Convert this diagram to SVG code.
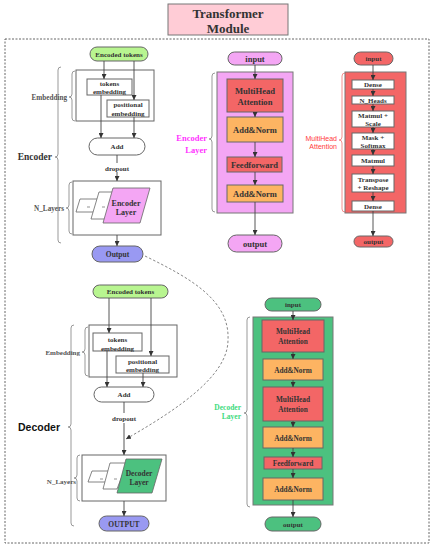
<svg xmlns="http://www.w3.org/2000/svg" width="433" height="550" viewBox="0 0 433 550">
<defs>
<style>
.t{font-family:"Liberation Serif","Times New Roman",serif;font-weight:bold;fill:#333;text-anchor:middle}
.l{font-family:"Liberation Serif","Times New Roman",serif;font-weight:bold;fill:#555;text-anchor:end}
.box{stroke:#666;stroke-width:1}
.ln{stroke:#444;stroke-width:0.9;fill:none}
.br{stroke:#999;stroke-width:1;fill:none}
</style>
<marker id="a" viewBox="0 0 6 6" refX="6" refY="3" markerWidth="5" markerHeight="5" orient="auto" markerUnits="userSpaceOnUse">
<path d="M0,0 L6,3 L0,6 z" fill="#333"/>
</marker>
</defs>
<rect width="433" height="550" fill="#fff"/>

<g id="title">
<rect x="168" y="4" width="120" height="31" fill="#FFCCD6" stroke="#777" stroke-width="1"/>
<text class="t" x="228" y="18" font-size="13">Transformer</text>
<text class="t" x="228" y="33" font-size="13">Module</text>
</g>

<rect id="frame" x="5" y="39" width="424" height="504" fill="none" stroke="#666" stroke-width="1" stroke-dasharray="2,1.5"/>

<!-- Encoder left -->
<g id="enc-braces">
<path class="br" d="M61,67 Q58,67 58,70 L58,154 Q58,157 55,157 Q58,157 58,160 L58,240 Q58,243 61,243"/>
<path class="br" d="M75,71 Q72,71 72,74 L72,94 Q72,97 69,97 Q72,97 72,100 L72,118 Q72,121 75,121"/>
<path class="br" d="M72,182 Q69,182 69,185 L69,205 Q69,208 66,208 Q69,208 69,211 L69,231 Q69,234 72,234"/>
<text class="t" x="52" y="160" font-size="9.5" style="text-anchor:end" fill="#222">Encoder</text>
<text class="l" x="67" y="99.5" font-size="7.2">Embedding</text>
<text class="l" x="64" y="210.5" font-size="7.2">N_Layers</text>
</g>
<g id="enc-tokens">
<rect class="box" x="90" y="47" width="58" height="14" rx="7" fill="#B8F590"/>
<text class="t" x="119" y="56.5" font-size="7">Encoded tokens</text>
</g>
<g id="enc-embedding">
<rect x="76" y="70" width="78" height="51" fill="#fff" stroke="#666"/>
</g>
<g id="enc-tokemb">
<rect x="87" y="79" width="45" height="16" fill="#fff" stroke="#666"/>
<text class="t" x="109.5" y="85.5" font-size="7">tokens</text>
<text class="t" x="109.5" y="94" font-size="7">embedding</text>
</g>
<g id="enc-posemb">
<rect x="107" y="100" width="42" height="17" fill="#fff" stroke="#666"/>
<text class="t" x="128" y="106.5" font-size="7">positional</text>
<text class="t" x="128" y="115.5" font-size="7">embedding</text>
</g>
<g id="enc-add">
<rect x="89" y="138" width="56" height="17" rx="8.5" fill="#fff" stroke="#666"/>
<text class="t" x="117" y="149" font-size="7">Add</text>
</g>
<text class="t" x="117" y="170.5" font-size="7">dropout</text>
<g id="enc-nlayers">
<rect x="73" y="181" width="88" height="54" fill="#fff" stroke="#666"/>
<polygon points="80,199 100,199 96,212 76,212" fill="#fff" stroke="#666" stroke-width="0.8"/>
<line x1="87" y1="207" x2="90" y2="207" stroke="#666" stroke-width="0.7"/>
<polygon points="99,192 122,192 114,219 91,219" fill="#fff" stroke="#666" stroke-width="0.8"/>
<line x1="102" y1="207" x2="105" y2="207" stroke="#666" stroke-width="0.7"/>
<polygon points="113,188 150,188 140,223 103,223" fill="#F4A6F4" stroke="#666" stroke-width="0.8"/>
<text class="t" x="126" y="206" font-size="8">Encoder</text>
<text class="t" x="126" y="215" font-size="8">Layer</text>
</g>
<g id="enc-output">
<rect class="box" x="92" y="246" width="51" height="16" rx="8" fill="#9999F2"/>
<text class="t" x="117.5" y="256.5" font-size="7.5">Output</text>
</g>

<!-- Decoder left -->
<g id="dec-braces">
<path class="br" d="M74,325 Q71,325 71,328 L71,424 Q71,427 68,427 Q71,427 71,430 L71,523 Q71,526 74,526"/>
<path class="br" d="M88,327 Q85,327 85,330 L85,349 Q85,352 82,352 Q85,352 85,355 L85,373 Q85,376 88,376"/>
<path class="br" d="M80,455 Q77,455 77,458 L77,475 Q77,478 74,478 Q77,478 77,481 L77,498 Q77,501 80,501"/>
<text x="60" y="431" font-size="10.5" font-family="'Liberation Sans',Arial,sans-serif" font-weight="bold" fill="#111" text-anchor="end">Decoder</text>
<text class="l" x="80" y="354.5" font-size="7">Embedding</text>
<text class="l" x="76" y="483.5" font-size="7">N_Layers</text>
</g>
<g id="dec-tokens">
<rect class="box" x="93" y="285" width="75" height="13" rx="6.5" fill="#B8F590"/>
<text class="t" x="130.5" y="294" font-size="7">Encoded tokens</text>
</g>
<g id="dec-embedding">
<rect x="89" y="325" width="88" height="52" fill="#fff" stroke="#666"/>
</g>
<g id="dec-tokemb">
<rect x="93" y="333" width="49" height="18" fill="#fff" stroke="#666"/>
<text class="t" x="117.5" y="341.5" font-size="7">tokens</text>
<text class="t" x="117.5" y="350.5" font-size="7">embedding</text>
</g>
<g id="dec-posemb">
<rect x="116" y="356" width="53" height="17" fill="#fff" stroke="#666"/>
<text class="t" x="142.5" y="363.5" font-size="7">positional</text>
<text class="t" x="142.5" y="372" font-size="7">embedding</text>
</g>
<g id="dec-add">
<rect x="94" y="387" width="60" height="15" rx="7.5" fill="#fff" stroke="#666"/>
<text class="t" x="124" y="397" font-size="7">Add</text>
</g>
<text class="t" x="124" y="420.5" font-size="7">dropout</text>
<g id="dec-nlayers">
<rect x="82" y="455" width="84" height="46" fill="#fff" stroke="#666"/>
<polygon points="92,471 110,471 106,482 88,482" fill="#fff" stroke="#666" stroke-width="0.8"/>
<line x1="100" y1="479" x2="103" y2="479" stroke="#666" stroke-width="0.7"/>
<polygon points="110,463 127,463 117,489 103,489" fill="#fff" stroke="#666" stroke-width="0.8"/>
<line x1="114" y1="479" x2="117" y2="479" stroke="#666" stroke-width="0.7"/>
<polygon points="126,459 162,459 152,493 117,493" fill="#4CC17F" stroke="#666" stroke-width="0.8"/>
<text class="t" x="139" y="476" font-size="7.5">Decoder</text>
<text class="t" x="139" y="485" font-size="7.5">Layer</text>
</g>
<g id="dec-output">
<rect class="box" x="99" y="516" width="50" height="15" rx="7.5" fill="#9999F2"/>
<text class="t" x="124" y="526.5" font-size="7.5">OUTPUT</text>
</g>

<!-- Encoder Layer -->
<g id="el-brace">
<path class="br" d="M215,73 Q212,73 212,76 L212,136 Q212,139 209,139 Q212,139 212,142 L212,209 Q212,212 215,212"/>
<text x="207" y="141" font-size="8.5" font-family="'Liberation Serif',serif" font-weight="bold" fill="#FF33FF" text-anchor="end">Encoder</text>
<text x="207" y="153" font-size="8.5" font-family="'Liberation Serif',serif" font-weight="bold" fill="#FF33FF" text-anchor="end">Layer</text>
</g>
<g id="el-input">
<rect class="box" x="228" y="52" width="54" height="13" rx="6.5" fill="#F4A6F4"/>
<text class="t" x="255" y="61.5" font-size="8.5">input</text>
</g>
<g id="el-container">
<rect x="217" y="72" width="76" height="141" fill="#F4A6F4" stroke="#777"/>
</g>
<g id="el-mha">
<rect class="box" x="227" y="79" width="56" height="33" fill="#F36666"/>
<text class="t" x="255" y="94" font-size="8.6">MultiHead</text>
<text class="t" x="255" y="105" font-size="8.6">Attention</text>
</g>
<g id="el-an1">
<rect class="box" x="227" y="117" width="56" height="25" fill="#FDB462"/>
<text class="t" x="255" y="132.5" font-size="8.5">Add&amp;Norm</text>
</g>
<g id="el-ff">
<rect class="box" x="227" y="157" width="55" height="15" fill="#F36666"/>
<text class="t" x="254.5" y="167.5" font-size="8.5">Feedforward</text>
</g>
<g id="el-an2">
<rect class="box" x="227" y="185" width="56" height="17" fill="#FDB462"/>
<text class="t" x="255" y="196.5" font-size="8.5">Add&amp;Norm</text>
</g>
<g id="el-output">
<rect class="box" x="228" y="235" width="54" height="17" rx="8.5" fill="#F4A6F4"/>
<text class="t" x="255" y="246.5" font-size="8.5">output</text>
</g>

<!-- MultiHead Attention -->
<g id="mha-brace">
<path d="M345,73 Q342,73 342,76 L342,137 Q342,140 339,140 Q342,140 342,143 L342,209 Q342,212 345,212" stroke="#F49090" stroke-width="1" fill="none"/>
<text x="337" y="140.5" font-size="7" font-family="'Liberation Sans',Arial,sans-serif" fill="#FF3B3B" text-anchor="end">MultiHead</text>
<text x="337" y="148.5" font-size="7" font-family="'Liberation Sans',Arial,sans-serif" fill="#FF3B3B" text-anchor="end">Attention</text>
</g>
<g id="mha-input">
<rect class="box" x="354" y="52" width="39" height="13" rx="6.5" fill="#F36666"/>
<text class="t" x="373.5" y="61" font-size="7">input</text>
</g>
<g id="mha-container">
<rect x="345" y="72" width="61" height="141" fill="#F36666" stroke="#777"/>
</g>
<g id="mha-dense1">
<rect class="box" x="352" y="80" width="42" height="9" fill="#fff"/>
<text class="t" x="373" y="87" font-size="7">Dense</text>
</g>
<g id="mha-nheads">
<rect class="box" x="352" y="96" width="42" height="8" fill="#fff"/>
<text class="t" x="373" y="102.5" font-size="7">N_Heads</text>
</g>
<g id="mha-matmul-scale">
<rect class="box" x="352" y="111" width="42" height="16" fill="#fff"/>
<text class="t" x="373" y="117.5" font-size="7">Matmul +</text>
<text class="t" x="373" y="126" font-size="7">Scale</text>
</g>
<g id="mha-mask">
<rect class="box" x="352" y="133" width="42" height="16" fill="#fff"/>
<text class="t" x="373" y="139.5" font-size="7">Mask +</text>
<text class="t" x="373" y="148" font-size="7">Softmax</text>
</g>
<g id="mha-matmul">
<rect class="box" x="352" y="155" width="42" height="11" fill="#fff"/>
<text class="t" x="373" y="163" font-size="7">Matmul</text>
</g>
<g id="mha-transpose">
<rect class="box" x="352" y="174" width="42" height="18" fill="#fff"/>
<text class="t" x="373" y="181.5" font-size="7">Transpose</text>
<text class="t" x="373" y="190" font-size="7">+ Reshape</text>
</g>
<g id="mha-dense2">
<rect class="box" x="352" y="201" width="42" height="10" fill="#fff"/>
<text class="t" x="373" y="208.5" font-size="7">Dense</text>
</g>
<g id="mha-output">
<rect class="box" x="354" y="236" width="39" height="11" rx="5.5" fill="#F36666"/>
<text class="t" x="373.5" y="244" font-size="7">output</text>
</g>

<!-- Decoder Layer -->
<g id="dl-brace">
<path class="br" d="M250,317 Q247,317 247,320 L247,410 Q247,413 244,413 Q247,413 247,416 L247,504 Q247,507 250,507"/>
<text x="241" y="409.5" font-size="7.5" font-family="'Liberation Serif',serif" font-weight="bold" fill="#3EDB7E" text-anchor="end">Decoder</text>
<text x="241" y="418.5" font-size="7.5" font-family="'Liberation Serif',serif" font-weight="bold" fill="#3EDB7E" text-anchor="end">Layer</text>
</g>
<g id="dl-input">
<rect class="box" x="265" y="298" width="56" height="13" rx="6.5" fill="#4CC17F"/>
<text class="t" x="293" y="307" font-size="7">input</text>
</g>
<g id="dl-container">
<rect x="253" y="317" width="80" height="188" fill="#4CC17F" stroke="#777"/>
</g>
<g id="dl-mha1">
<rect class="box" x="262" y="320" width="62" height="32" fill="#F36666"/>
<text class="t" x="293" y="334" font-size="7.3">MultiHead</text>
<text class="t" x="293" y="344" font-size="7.3">Attention</text>
</g>
<g id="dl-an1">
<rect class="box" x="263" y="359" width="60" height="21" fill="#FDB462"/>
<text class="t" x="293" y="372.5" font-size="7.3">Add&amp;Norm</text>
</g>
<g id="dl-mha2">
<rect class="box" x="263" y="387" width="60" height="34" fill="#F36666"/>
<text class="t" x="293" y="402" font-size="7.3">MultiHead</text>
<text class="t" x="293" y="412" font-size="7.3">Attention</text>
</g>
<g id="dl-an2">
<rect class="box" x="263" y="427" width="60" height="21" fill="#FDB462"/>
<text class="t" x="293" y="440.5" font-size="7.3">Add&amp;Norm</text>
</g>
<g id="dl-ff">
<rect class="box" x="264" y="457" width="58" height="12" fill="#F36666"/>
<text class="t" x="293" y="466" font-size="7.3">Feedforward</text>
</g>
<g id="dl-an3">
<rect class="box" x="263" y="478" width="60" height="22" fill="#FDB462"/>
<text class="t" x="293" y="491.5" font-size="7.3">Add&amp;Norm</text>
</g>
<g id="dl-output">
<rect class="box" x="265" y="517" width="56" height="14" rx="7" fill="#4CC17F"/>
<text class="t" x="293" y="526.5" font-size="7">output</text>
</g>

<g id="connectors">
<!-- encoder left -->
<line class="ln" x1="104" y1="61" x2="104" y2="79" marker-end="url(#a)"/>
<line class="ln" x1="134" y1="61" x2="134" y2="100" marker-end="url(#a)"/>
<line class="ln" x1="101" y1="95" x2="101" y2="138" marker-end="url(#a)"/>
<line class="ln" x1="134" y1="117" x2="134" y2="138" marker-end="url(#a)"/>
<line class="ln" x1="117" y1="155" x2="117" y2="163"/>
<line class="ln" x1="117" y1="172" x2="117" y2="181" marker-end="url(#a)"/>
<line class="ln" x1="117" y1="235" x2="117" y2="246" marker-end="url(#a)"/>
<!-- decoder left -->
<line class="ln" x1="109" y1="298" x2="109" y2="333" marker-end="url(#a)"/>
<line class="ln" x1="151" y1="298" x2="151" y2="356" marker-end="url(#a)"/>
<line class="ln" x1="107" y1="351" x2="107" y2="387" marker-end="url(#a)"/>
<line class="ln" x1="143" y1="373" x2="143" y2="387" marker-end="url(#a)"/>
<line class="ln" x1="124" y1="402" x2="124" y2="413"/>
<line class="ln" x1="124" y1="423" x2="124" y2="455" marker-end="url(#a)"/>
<line class="ln" x1="124" y1="501" x2="124" y2="516" marker-end="url(#a)"/>
<!-- dashed link -->
<path d="M145,256 C190,278 230,300 228,340 C228,375 180,408 126,439" stroke="#666" stroke-width="0.8" stroke-dasharray="2.5,2" fill="none" marker-end="url(#a)"/>
<!-- encoder layer -->
<line class="ln" x1="255" y1="65" x2="255" y2="79" marker-end="url(#a)"/>
<line class="ln" x1="255" y1="112" x2="255" y2="117" marker-end="url(#a)"/>
<line class="ln" x1="255" y1="142" x2="255" y2="157" marker-end="url(#a)"/>
<line class="ln" x1="255" y1="172" x2="255" y2="185" marker-end="url(#a)"/>
<line class="ln" x1="255" y1="202" x2="255" y2="235" marker-end="url(#a)"/>
<!-- MHA -->
<line class="ln" x1="373" y1="65" x2="373" y2="80" marker-end="url(#a)"/>
<line class="ln" x1="373" y1="89" x2="373" y2="96" marker-end="url(#a)"/>
<line class="ln" x1="373" y1="104" x2="373" y2="111" marker-end="url(#a)"/>
<line class="ln" x1="373" y1="127" x2="373" y2="133" marker-end="url(#a)"/>
<line class="ln" x1="373" y1="149" x2="373" y2="155" marker-end="url(#a)"/>
<line class="ln" x1="373" y1="166" x2="373" y2="174" marker-end="url(#a)"/>
<line class="ln" x1="373" y1="192" x2="373" y2="201" marker-end="url(#a)"/>
<line class="ln" x1="373" y1="211" x2="373" y2="236" marker-end="url(#a)"/>
<!-- decoder layer -->
<line class="ln" x1="293" y1="311" x2="293" y2="320" marker-end="url(#a)"/>
<line class="ln" x1="293" y1="352" x2="293" y2="359" marker-end="url(#a)"/>
<line class="ln" x1="293" y1="380" x2="293" y2="387" marker-end="url(#a)"/>
<line class="ln" x1="293" y1="421" x2="293" y2="427" marker-end="url(#a)"/>
<line class="ln" x1="293" y1="448" x2="293" y2="457" marker-end="url(#a)"/>
<line class="ln" x1="293" y1="469" x2="293" y2="478" marker-end="url(#a)"/>
<line class="ln" x1="293" y1="500" x2="293" y2="517" marker-end="url(#a)"/>
</g>
</svg>
